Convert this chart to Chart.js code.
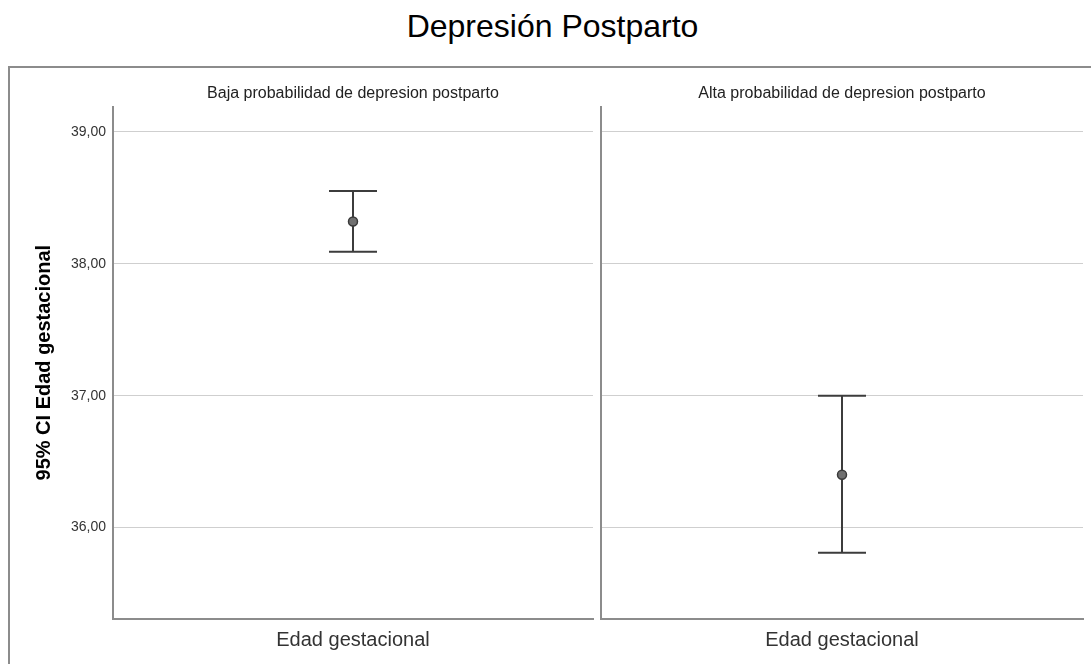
<!DOCTYPE html>
<html>
<head>
<meta charset="utf-8">
<script src="https://cdn.jsdelivr.net/npm/chart.js@4/dist/chart.umd.min.js"></script>
<style>
  html, body { margin: 0; padding: 0; background: #fff; width: 1091px; height: 664px; overflow: hidden; }
  #title { position: absolute; left: 7px; top: 10px; width: 1091px; text-align: center;
           font: 32px/32px "Liberation Sans", Arial, sans-serif; color: #000; }
  #frame { position: absolute; left: 8px; top: 66px; width: 1100px; height: 700px;
           border: 2px solid #8c8c8c; box-sizing: border-box; }
  .panel { position: absolute; top: 68px; height: 596px; }
  #p0 { left: 9px; width: 590px; }
  #p1 { left: 595px; width: 496px; }
</style>
</head>
<body>
<div id="frame"></div>
<div id="title">Depresión Postparto</div>
<div class="panel" id="p0"><canvas id="c0" width="590" height="596"></canvas></div>
<div class="panel" id="p1"><canvas id="c1" width="496" height="596"></canvas></div>
<script>
// Gestational age (weeks): mean and 95% confidence interval per group
const panelTitles = ['Baja probabilidad de depresion postparto', 'Alta probabilidad de depresion postparto'];
const xCategory = ['Edad gestacional'];
const means   = [38.32, 36.40];
const lowerCI = [38.09, 35.81];
const upperCI = [38.55, 37.00];
const yTicks  = [36, 37, 38, 39];
const yMin = 35.31;
const yMax = 39.19;

const FONT = '"Liberation Sans", Arial, sans-serif';

// Draws the vertical CI line with end caps behind the mean marker
const ciWhiskers = {
  id: 'ciWhiskers',
  beforeDatasetsDraw(chart, args, opts) {
    const { ctx, scales: { x, y } } = chart;
    chart.data.datasets.forEach(ds => {
      ds.data.forEach((v, j) => {
        const px = x.getPixelForValue(j);
        const lo = y.getPixelForValue(ds.ciLow[j]);
        const hi = y.getPixelForValue(ds.ciHigh[j]);
        ctx.save();
        ctx.strokeStyle = opts.color;
        ctx.lineWidth = opts.width;
        ctx.beginPath();
        ctx.moveTo(px, lo); ctx.lineTo(px, hi);
        ctx.moveTo(px - opts.cap, lo); ctx.lineTo(px + opts.cap, lo);
        ctx.moveTo(px - opts.cap, hi); ctx.lineTo(px + opts.cap, hi);
        ctx.stroke();
        ctx.restore();
      });
    });
  }
};

function makePanel(i, canvasId, withAxisLabels, yAxisWidth, padRight) {
  return new Chart(document.getElementById(canvasId), {
    type: 'line',
    data: {
      labels: xCategory,
      datasets: [{
        data: [means[i]],
        ciLow: [lowerCI[i]],
        ciHigh: [upperCI[i]],
        showLine: false,
        pointRadius: 4.5,
        pointBackgroundColor: '#707070',
        pointBorderColor: '#3a3a3a',
        pointBorderWidth: 1.5
      }]
    },
    options: {
      responsive: false,
      animation: false,
      layout: { padding: { left: 0, right: padRight, top: 0, bottom: 0 } },
      plugins: {
        legend: { display: false },
        tooltip: { enabled: false },
        title: {
          display: true,
          text: panelTitles[i],
          fullSize: false,
          color: '#222',
          font: { family: FONT, size: 16, weight: 'normal' },
          padding: { top: 16, bottom: 3.4 }
        },
        ciWhiskers: { color: '#3c3c3c', width: 2, cap: 24 }
      },
      scales: {
        x: {
          type: 'category',
          offset: true,
          grid: { display: false, drawTicks: false },
          border: { display: true, color: '#8c8c8c', width: 2 },
          ticks: { padding: 10, color: '#333', maxRotation: 0, font: { family: FONT, size: 20 } },
          afterFit: s => { s.height = 45.3; }
        },
        y: {
          min: yMin,
          max: yMax,
          afterBuildTicks: s => { s.ticks = yTicks.map(v => ({ value: v })); },
          afterFit: s => { s.width = yAxisWidth; },
          grid: { color: '#cfcfcf', lineWidth: 1, drawTicks: false },
          border: { display: true, color: '#8c8c8c', width: 2 },
          ticks: {
            display: withAxisLabels,
            padding: 7,
            color: '#333',
            font: { family: FONT, size: 14 },
            callback: v => v.toFixed(2).replace('.', ',')
          },
          title: {
            display: withAxisLabels,
            text: '95% CI Edad gestacional',
            color: '#000',
            font: { family: FONT, size: 20, weight: 'bold' },
            padding: { top: 23, bottom: 0 }
          }
        }
      }
    },
    plugins: [ciWhiskers]
  });
}

makePanel(0, 'c0', true, 104, 4.5);
makePanel(1, 'c1', false, 3, 8);
</script>
</body>
</html>
